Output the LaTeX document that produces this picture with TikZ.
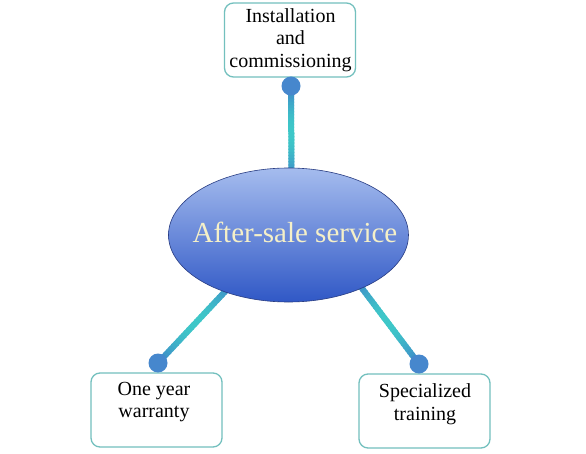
\documentclass[tikz,border=0pt]{standalone}
\usepackage{fontspec}
\setmainfont{Liberation Serif}
\usetikzlibrary{shapes.geometric,backgrounds,calc}
\definecolor{boxline}{RGB}{115,192,190}
\definecolor{lineblue}{RGB}{62,128,200}
\definecolor{linecyan}{RGB}{62,200,200}
\definecolor{dotblue}{RGB}{70,135,205}
\definecolor{elltop}{RGB}{165,188,238}
\definecolor{ellmid}{RGB}{88,125,215}
\definecolor{ellbot}{RGB}{48,88,198}
\definecolor{ellborder}{RGB}{40,60,130}
\definecolor{elltext}{RGB}{245,240,200}
\tikzset{
  infobox/.style={draw=boxline, line width=1.3pt, rounded corners=9pt, fill=white,
    minimum width=131pt, minimum height=74pt, inner sep=0pt},
  boxtext/.style={align=center, font=\fontsize{20}{22.5}\selectfont, inner sep=0pt},
  hubdot/.style={circle, fill=dotblue, minimum size=19pt, inner sep=0pt},
  hub/.style={ellipse, draw=ellborder, line width=0.6pt, top color=elltop,
    middle color=ellmid, bottom color=ellbot, minimum width=240pt, minimum height=134pt, inner sep=0pt},
  hubtext/.style={text=elltext, font=\fontsize{29}{32}\selectfont, inner sep=0pt},
}
\newcommand\gradlink[2]{%
  \foreach \i in {0,...,29}{%
    \pgfmathtruncatemacro\cc{100*sin(180*(\i+0.5)/30)}%
    \draw[line width=6pt, color=linecyan!\cc!lineblue]
      ($(#1)!{\i/30}!(#2)$) -- ($(#1)!{(\i+1.4)/30}!(#2)$);
  }%
}
\begin{document}
\begin{tikzpicture}[x=1pt,y=-1pt]
\useasboundingbox (0,0) rectangle (586,454);
% hub
\node[hub] (hub) at (288.5,235) {};
\node[hubtext] (hubtxt) at (295,232) {After-sale service};
% boxes
\node[infobox] (top) at (290,40) {};
\node[boxtext] (toptxt) at (290.5,40) {Installation\\and\\commissioning};
\node[infobox] (left) at (156.5,410) {};
\node[boxtext] (lefttxt) at (154,402) {One year\\warranty};
\node[infobox] (right) at (424.5,411) {};
\node[boxtext] (righttxt) at (425,404) {Specialized\\training};
% dots
\node[hubdot] (dtop) at (291,86) {};
\node[hubdot] (dleft) at (158,363) {};
\node[hubdot] (dright) at (419,364) {};
% inner ends of connectors
\coordinate (etop) at (291.5,180);
\coordinate (eleft) at (234,282);
\coordinate (eright) at (355,279);
\begin{scope}[on background layer]
  \fill[white] (0,0) rectangle (586,454);
  \gradlink{dtop}{etop}
  \gradlink{dleft}{eleft}
  \gradlink{dright}{eright}
\end{scope}
\end{tikzpicture}
\end{document}
